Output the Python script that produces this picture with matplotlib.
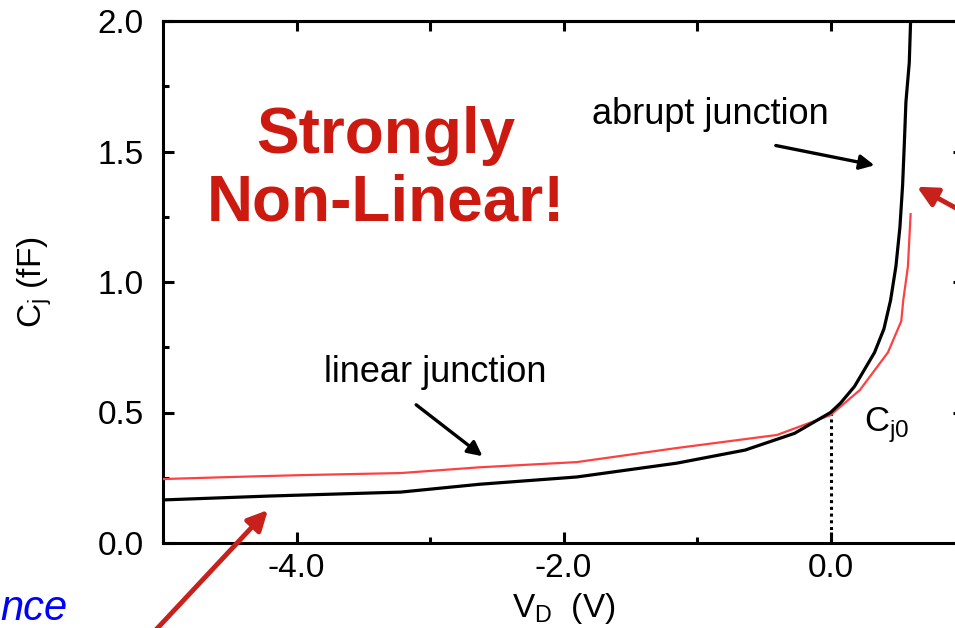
import matplotlib
matplotlib.use("Agg")
import matplotlib.pyplot as plt
from matplotlib.ticker import MultipleLocator

plt.rcParams['font.family'] = ['Liberation Sans', 'DejaVu Sans']

# abrupt junction (black)
abrupt_v = [-5.0, -4.2, -3.22, -2.63, -1.9, -1.15, -0.64, -0.27, 0.0, 0.075,
            0.18, 0.33, 0.4, 0.45, 0.49, 0.52, 0.54, 0.553, 0.565, 0.59, 0.6]
abrupt_c = [0.165, 0.18, 0.195, 0.225, 0.253, 0.306, 0.356, 0.42, 0.5, 0.536,
            0.6, 0.73, 0.82, 0.93, 1.06, 1.21, 1.37, 1.53, 1.69, 1.84, 2.0]

# linear junction (red)
linear_v = [-5.0, -4.48, -3.97, -3.22, -2.63, -1.9, -1.15, -0.4, 0.0, 0.22,
            0.43, 0.53, 0.545, 0.58, 0.6]
linear_c = [0.245, 0.253, 0.26, 0.268, 0.29, 0.31, 0.364, 0.414, 0.49, 0.586,
            0.73, 0.85, 0.93, 1.06, 1.26]

cj0_v = 0.0
cj0_c = 0.5

x_ticks = [-4.0, -2.0, 0.0]
x_ticklabels = ['-4.0', '-2.0', '0.0']
top_ticks = [-4, -3, -2, -1, 0]
y_ticks = [0.0, 0.5, 1.0, 1.5, 2.0]

fig = plt.figure(figsize=(9.55, 6.28), dpi=100)
ax = fig.add_axes([163/955, 85/628, 801/955, 522/628])

ax.plot(linear_v, linear_c, color='#ff4040', lw=1.6, zorder=3)
ax.plot(abrupt_v, abrupt_c, color='black', lw=2.3, zorder=4)
ax.plot([cj0_v, cj0_v], [0, cj0_c], color='black', lw=2.2, ls=(0, (1, 1.2)), zorder=2)

ax.set_xlim(-5, 1)
ax.set_ylim(0, 2)
ax.set_xticks(x_ticks)
ax.set_xticklabels(x_ticklabels)
ax.xaxis.set_minor_locator(MultipleLocator(1))
ax.set_yticks(y_ticks)
ax.set_yticklabels([f'{v:.1f}' for v in y_ticks])
ax.yaxis.set_minor_locator(MultipleLocator(0.25))

for s in ax.spines.values():
    s.set_linewidth(2.2)
ax.tick_params(which='major', direction='in', length=8, width=2.2,
               labelsize=24, pad=7, top=False, right=True)
ax.tick_params(which='minor', direction='in', length=4, width=2.2, top=False, right=True)
ax.tick_params(axis='y', which='major', pad=14)

top = ax.secondary_xaxis('top')
top.set_xticks(top_ticks)
top.tick_params(direction='in', length=7, width=2.2, labeltop=False)
top.spines['top'].set_linewidth(2.2)

ax.set_xlabel('V$_\\mathregular{D}$  (V)', fontsize=24, labelpad=5)
ax.set_ylabel('C$_\\mathregular{j}$ (fF)', fontsize=24, labelpad=31)

ax.text(0.25, 0.45, 'C$_\\mathregular{j0}$', fontsize=25, ha='left', va='center')

ax.text(-3.33, 1.43, 'Strongly\nNon-Linear!', color='#cc1a10', fontsize=46,
        fontweight='bold', ha='center', va='center', linespacing=1.17)

ax.annotate('abrupt junction', xy=(0.35, 1.445), xytext=(-0.9, 1.64),
            fontsize=26, ha='center', va='center')
ax.annotate('', xy=(0.35, 1.445), xytext=(-0.43, 1.525),
            arrowprops=dict(arrowstyle='-|>', color='black', lw=2.4, mutation_scale=22))

ax.annotate('linear junction', xy=(-2.59, 0.326), xytext=(-2.96, 0.655),
            fontsize=26, ha='center', va='center')
ax.annotate('', xy=(-2.59, 0.326), xytext=(-3.12, 0.536),
            arrowprops=dict(arrowstyle='-|>', color='black', lw=2.4, mutation_scale=22))

# red pointer arrows coming from outside the crop
ax.annotate('', xy=(-4.2, 0.134), xycoords='data',
            xytext=(140/955, -0.03), textcoords='figure fraction',
            arrowprops=dict(arrowstyle='-|>', color='#c8201a', lw=3.5, mutation_scale=30),
            annotation_clip=False)
ax.annotate('', xy=(0.63, 1.37), xycoords='data',
            xytext=(985/955, 1 - 224/628), textcoords='figure fraction',
            arrowprops=dict(arrowstyle='-|>', color='#c8201a', lw=3.5, mutation_scale=30),
            annotation_clip=False)

fig.text(0.0, (628 - 620) / 628, 'nce', color='#0000ff', fontsize=30,
         style='italic', ha='left', va='baseline')

fig.savefig('out.png', dpi=100)
